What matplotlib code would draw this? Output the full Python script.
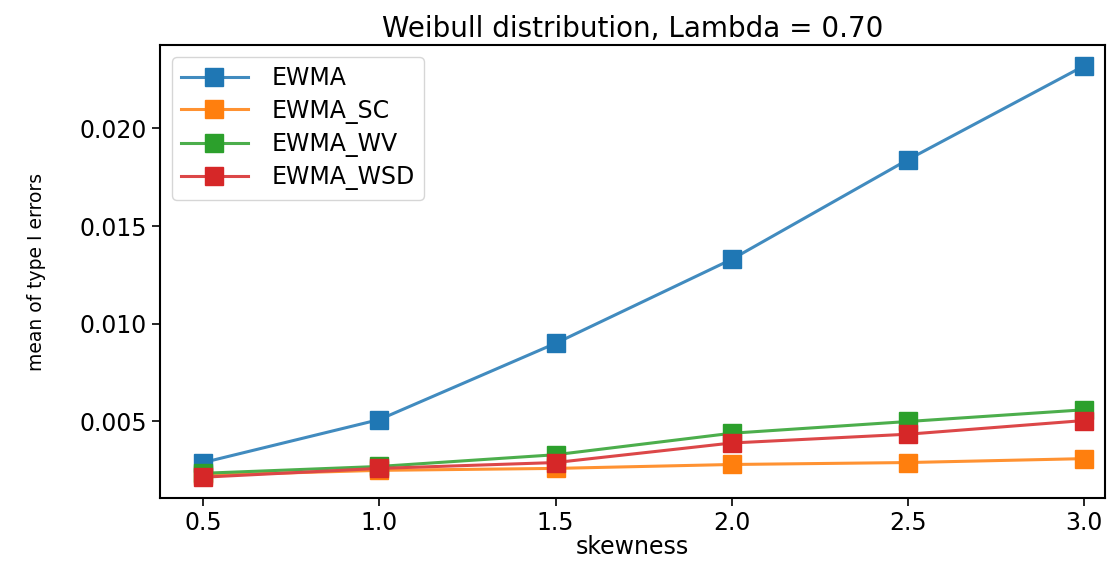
import matplotlib
matplotlib.use("Agg")
import matplotlib.pyplot as plt
from matplotlib import colors as mcolors
import numpy as np

skewness = [0.5, 1.0, 1.5, 2.0, 2.5, 3.0]
ewma = [0.0029, 0.0051, 0.0090, 0.0133, 0.0184, 0.0232]
ewma_sc = [0.00225, 0.0025, 0.0026, 0.0028, 0.0029, 0.0031]
ewma_wv = [0.00235, 0.0027, 0.0033, 0.0044, 0.0050, 0.0056]
ewma_wsd = [0.00215, 0.0026, 0.0029, 0.0039, 0.00435, 0.00505]
labels = ["EWMA", "EWMA_SC", "EWMA_WV", "EWMA_WSD"]

fig = plt.figure(figsize=(11.2, 5.65), dpi=100)
ax = fig.add_axes([0.143, 0.119, 0.844, 0.801])

colors = ["#1f77b4", "#ff7f0e", "#2ca02c", "#d62728"]
for ys, lab, c in zip([ewma, ewma_sc, ewma_wv, ewma_wsd], labels, colors):
    # line slightly lighter than the solid square markers
    light = np.array(mcolors.to_rgb(c)) * 0.85 + 0.15
    ax.plot(skewness, ys, color=light, marker="s", markersize=12.5,
            markerfacecolor=c, markeredgecolor=c, linewidth=2.2, label=lab)

ax.set_xlim(0.378, 3.06)
ax.set_xticks(skewness)
ax.set_yticks([0.005, 0.010, 0.015, 0.020])
ax.tick_params(labelsize=17, length=6, width=1.2)
for s in ax.spines.values():
    s.set_linewidth(1.5)
ax.set_title("Weibull distribution, Lambda = 0.70", fontsize=20, pad=6)
ax.set_xlabel("skewness", fontsize=17, labelpad=0)
ax.set_ylabel("mean of type I errors", fontsize=13.5, labelpad=24)
ax.legend(loc="upper left", fontsize=17, handlelength=2.8, borderpad=0.4,
          labelspacing=0.35, handletextpad=1.0)

fig.savefig("out.png", dpi=100)
